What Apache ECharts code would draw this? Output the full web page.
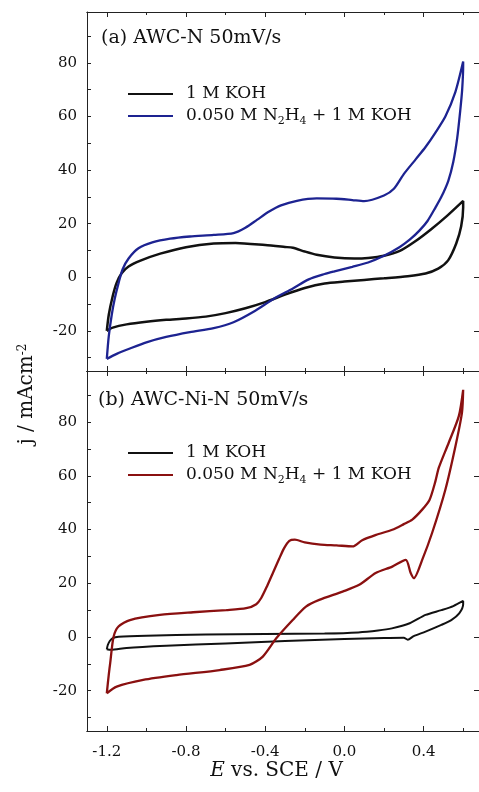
<!DOCTYPE html>
<html>
<head>
<meta charset="utf-8">
<script src="https://cdn.jsdelivr.net/npm/echarts@6/dist/echarts.min.js"></script>
<style>
html, body { margin: 0; padding: 0; background: #fff; }
#main { width: 479px; height: 792px; }
</style>
</head>
<body>
<div id="main"></div>
<script>
// tick positions
var xMajor = [-1.2, -0.8, -0.4, 0, 0.4];
var xMinor = [-1.0, -0.6, -0.2, 0.2, 0.6];
var yMajor = [-20, 0, 20, 40, 60, 80];
var yMinor = [-30, -10, 10, 30, 50, 70, 90];

var legendLabels = ['1 M KOH', '0.050 M N2H4 + 1 M KOH'];
var panelTitles = ['(a) AWC-N 50mV/s', '(b) AWC-Ni-N 50mV/s'];

// (a) AWC-N, 1 M KOH  [E / V, j / mA cm-2], one loop
var awcnKoh = [
    [-1.2, -20], [-1.19, -14], [-1.17, -7], [-1.15, -2], [-1.125, 1.5], [-1.09, 4], [-1.03, 6.2],
    [-0.93, 8.8], [-0.8, 11.2], [-0.66, 12.6], [-0.55, 12.8], [-0.4, 12.0], [-0.3, 11.3], [-0.26, 11],
    [-0.2, 9.6], [-0.14, 8.4], [-0.05, 7.4], [0.05, 7], [0.12, 7.2], [0.2, 8], [0.28, 9.8],
    [0.36, 13.5], [0.44, 18], [0.52, 23], [0.6, 28.5],
    [0.6, 26], [0.59, 19], [0.565, 12.6], [0.524, 6.3], [0.474, 3.2], [0.41, 1.4], [0.32, 0.4],
    [0.2, -0.4], [0.1, -1], [0.0, -1.6], [-0.1, -2.3], [-0.2, -4], [-0.3, -6.5], [-0.4, -9.3],
    [-0.5, -11.6], [-0.6, -13.4], [-0.7, -14.7], [-0.8, -15.4], [-0.9, -15.9], [-1.0, -16.6],
    [-1.1, -17.6], [-1.17, -18.8], [-1.2, -20]
];

// (a) AWC-N, 0.050 M N2H4 + 1 M KOH
var awcnHz = [
    [-1.2, -30.5], [-1.19, -22], [-1.175, -14], [-1.16, -8], [-1.14, -2], [-1.12, 3], [-1.09, 7],
    [-1.04, 10.8], [-0.97, 13], [-0.88, 14.4], [-0.78, 15.2], [-0.66, 15.8], [-0.56, 16.5],
    [-0.5, 18.5], [-0.44, 21.5], [-0.38, 24.5], [-0.32, 26.8], [-0.24, 28.5], [-0.14, 29.4],
    [-0.04, 29.3], [0.04, 28.8], [0.1, 28.4], [0.2, 30.5], [0.25, 33], [0.3, 38.5], [0.36, 44],
    [0.41, 48.6], [0.46, 54], [0.51, 60], [0.56, 69], [0.6, 80.5],
    [0.6, 79], [0.595, 70], [0.585, 62], [0.57, 52], [0.55, 43], [0.525, 36], [0.49, 30],
    [0.46, 26], [0.42, 21], [0.38, 17.5], [0.33, 14], [0.28, 11.3], [0.2, 8], [0.12, 5.5],
    [0.04, 3.9], [-0.05, 2.2], [-0.1, 1.2], [-0.18, -0.8], [-0.26, -4.2], [-0.36, -8.2],
    [-0.45, -12.5], [-0.56, -16.8], [-0.66, -19], [-0.78, -20.5], [-0.9, -22.3], [-1.0, -24.3],
    [-1.08, -26.5], [-1.15, -28.6], [-1.2, -30.5]
];

// (b) AWC-Ni-N, 1 M KOH
var awcnniKoh = [
    [-1.2, -4.6], [-1.195, -3], [-1.185, -1.5], [-1.17, -0.4], [-1.14, 0.1], [-1.0, 0.5],
    [-0.7, 0.9], [-0.4, 1.1], [-0.1, 1.3], [0.07, 1.7], [0.17, 2.4], [0.24, 3.2], [0.33, 5.1],
    [0.41, 8.2], [0.49, 10], [0.55, 11.5], [0.6, 13.4],
    [0.6, 12.2], [0.58, 8.8], [0.54, 6.3], [0.49, 4.5], [0.41, 2], [0.35, 0.3], [0.32, -1],
    [0.3, -0.3], [0.2, -0.4], [0.0, -0.8], [-0.3, -1.5], [-0.6, -2.4], [-0.9, -3.3],
    [-1.1, -4.1], [-1.18, -4.8], [-1.2, -4.6]
];

// (b) AWC-Ni-N, 0.050 M N2H4 + 1 M KOH
var awcnniHz = [
    [-1.2, -21], [-1.19, -14], [-1.183, -9.8], [-1.166, 0], [-1.141, 3.9], [-1.083, 6.3],
    [-0.932, 8.2], [-0.764, 9.2], [-0.596, 10], [-0.496, 10.7], [-0.445, 12.2], [-0.42, 14.5],
    [-0.39, 19], [-0.36, 24], [-0.33, 29], [-0.305, 33], [-0.278, 35.8], [-0.25, 36.2],
    [-0.2, 35.2], [-0.12, 34.4], [-0.04, 34.1], [0.041, 33.7], [0.09, 36], [0.16, 38],
    [0.242, 39.9], [0.3, 42], [0.343, 43.7], [0.393, 47.4], [0.43, 51], [0.46, 58], [0.477, 63],
    [0.527, 72.3], [0.578, 82.2], [0.6, 92],
    [0.594, 83.5], [0.561, 71], [0.51, 54.8], [0.443, 38.7], [0.393, 28.7], [0.351, 21.9],
    [0.335, 23.8], [0.31, 28.7], [0.242, 26.2], [0.158, 23.8], [0.075, 19.4], [-0.009, 16.9],
    [-0.127, 13.8], [-0.194, 11.3], [-0.261, 6.3], [-0.344, -0.5], [-0.412, -7.3],
    [-0.479, -10.4], [-0.63, -12.3], [-0.848, -14.2], [-1.016, -16], [-1.15, -18.5], [-1.2, -21]
];

var font = 'DejaVu Serif';
var ink = '#111';
var axisColor = '#222';
var colKoh = '#111111';
var colA = '#1d2391';
var colB = '#8a1010';

var xAxisFor = (grid, pos, ticks, len, withLabel) => {
    var ax = {
        type: 'value', gridIndex: grid, position: pos, min: -1.3, max: 0.68,
        axisLine: {show: true, onZero: false, lineStyle: {color: axisColor, width: 1}},
        axisTick: {show: true, inside: true, length: len, customValues: ticks,
            lineStyle: {color: axisColor, width: 1}},
        axisLabel: {show: false},
        splitLine: {show: false}
    };
    if (withLabel) {
        ax.axisLabel = {
            show: true, customValues: xMajor, margin: 14,
            formatter: v => v.toFixed(1),
            fontFamily: font, fontSize: 15, color: ink
        };
        ax.name = '{i|E} vs. SCE / V';
        ax.nameLocation = 'middle';
        ax.nameGap = 29;
        ax.nameTextStyle = {
            fontFamily: font, fontSize: 20, color: ink, padding: [0, 13, 0, 0],
            rich: {i: {fontFamily: font, fontSize: 20, fontStyle: 'italic', color: ink}}
        };
    }
    return ax;
};

var yAxisFor = (grid, pos, ticks, len, withLabel) => ({
    type: 'value', gridIndex: grid, position: pos, min: -35, max: 99,
    axisLine: {show: true, onZero: false, lineStyle: {color: axisColor, width: 1}},
    axisTick: {show: true, inside: true, length: len, customValues: ticks,
        lineStyle: {color: axisColor, width: 1}},
    axisLabel: withLabel ? {
        show: true, customValues: yMajor, margin: 10,
        fontFamily: font, fontSize: 15, color: ink
    } : {show: false},
    splitLine: {show: false}
});

var seriesFor = (name, data, color, xi, yi, z, w) => ({
    type: 'line', name: name, data: data, xAxisIndex: xi, yAxisIndex: yi,
    symbol: 'none', smooth: 0.25, z: z,
    lineStyle: {color: color, width: w},
    itemStyle: {color: color}
});

var labelOf = {'a-koh': legendLabels[0], 'a-hz': legendLabels[1],
    'b-koh': legendLabels[0], 'b-hz': legendLabels[1]};

// "N2H4" -> N{sub|2}H{sub|4}
var richLabel = s => '{g|}{t|' + s.replace('N2H4', 'N}{sub|2}{t|H}{sub|4}{t|') + '}';

var legendFor = (data, top) => ({
    data: data, left: 128, top: top, orient: 'vertical', padding: 0,
    icon: 'rect', itemWidth: 45, itemHeight: 2, itemGap: 5, selectedMode: false,
    formatter: n => richLabel(labelOf[n]),
    textStyle: {rich: {
        g: {width: 8},
        t: {fontFamily: font, fontSize: 17, color: ink, lineHeight: 18, verticalAlign: 'top'},
        sub: {fontFamily: font, fontSize: 11, color: ink, lineHeight: 11, verticalAlign: 'top',
            padding: [9, 0, 0, 0]}
    }}
});

var chart = echarts.init(document.getElementById('main'));

var option = {
    animation: false,
    backgroundColor: '#fff',
    grid: [
        {left: 87, top: 12, width: 394, height: 359},
        {left: 87, top: 371, width: 394, height: 360}
    ],
    xAxis: [
        xAxisFor(0, 'bottom', xMajor, 5, false),
        xAxisFor(0, 'bottom', xMinor, 3, false),
        xAxisFor(0, 'top', xMajor, 5, false),
        xAxisFor(0, 'top', xMinor, 3, false),
        xAxisFor(1, 'bottom', xMajor, 5, true),
        xAxisFor(1, 'bottom', xMinor, 3, false),
        xAxisFor(1, 'top', xMajor, 5, false),
        xAxisFor(1, 'top', xMinor, 3, false)
    ],
    yAxis: [
        yAxisFor(0, 'left', yMajor.concat(yMinor), 4, true),
        yAxisFor(0, 'right', yMajor, 5, false),
        yAxisFor(1, 'left', yMajor.concat(yMinor), 4, true),
        yAxisFor(1, 'right', yMajor, 5, false)
    ],
    title: [
        {text: panelTitles[0], left: 101, top: 29, padding: 0,
            textStyle: {fontFamily: font, fontSize: 19, fontWeight: 'normal', color: ink}},
        {text: panelTitles[1], left: 98, top: 391, padding: 0,
            textStyle: {fontFamily: font, fontSize: 19, fontWeight: 'normal', color: ink}}
    ],
    legend: [
        legendFor(['a-koh', 'a-hz'], 85),
        legendFor(['b-koh', 'b-hz'], 444)
    ],
    graphic: [{
        type: 'text', x: 28, y: 394, rotation: Math.PI / 2,
        style: {
            text: '{m|j / mAcm}{s|-2}',
            align: 'center', verticalAlign: 'middle', fill: ink,
            rich: {
                m: {fontFamily: font, fontSize: 20, lineHeight: 22, verticalAlign: 'top', fill: ink},
                s: {fontFamily: font, fontSize: 12, lineHeight: 10, verticalAlign: 'top', fill: ink}
            }
        }
    }],
    series: [
        seriesFor('a-koh', awcnKoh, colKoh, 0, 0, 2, 2.5),
        seriesFor('a-hz', awcnHz, colA, 0, 0, 3, 2.3),
        seriesFor('b-koh', awcnniKoh, colKoh, 4, 2, 2, 2),
        seriesFor('b-hz', awcnniHz, colB, 4, 2, 3, 2.3)
    ]
};
chart.setOption(option);
</script>
</body>
</html>
